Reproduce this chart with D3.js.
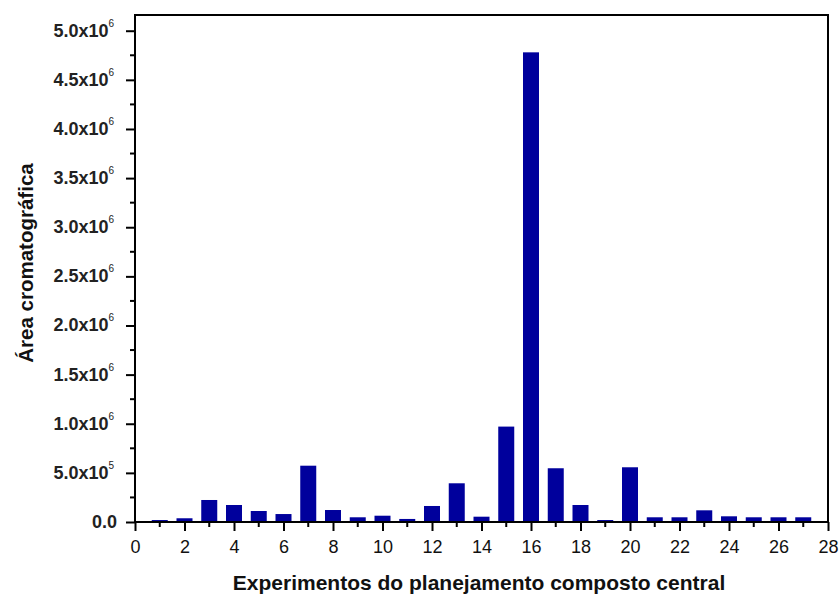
<!DOCTYPE html>
<html>
<head>
<meta charset="utf-8">
<script src="https://cdn.jsdelivr.net/npm/d3@7"></script>
<style>
body { margin: 0; background: #fff; }
text { font-family: "Liberation Sans", Arial, sans-serif; }
</style>
</head>
<body>
<div id="chart"></div>
<script>
var experiments = [1,2,3,4,5,6,7,8,9,10,11,12,13,14,15,16,17,18,19,20,21,22,23,24,25,26,27];
var areas = [20000, 38000, 224000, 173000, 112000, 81000, 573000, 122000, 48000, 64000,
             31000, 163000, 394000, 54000, 971000, 4780000, 547000, 173000, 20000, 557000,
             48000, 48000, 119000, 58000, 48000, 48000, 48000];
var xTicks = [0,2,4,6,8,10,12,14,16,18,20,22,24,26,28];
var yMantissa = ["0.0","5.0","1.0","1.5","2.0","2.5","3.0","3.5","4.0","4.5","5.0"];
var yExponent = ["", "5","6","6","6","6","6","6","6","6","6"];

var width = 840, height = 599;
var pLeft = 135, pRight = 828, pTop = 15, pBottom = 522;

var svg = d3.select("#chart").append("svg")
    .attr("width", width)
    .attr("height", height);

var x = d3.scaleLinear().domain([0, 28]).range([pLeft, pRight]);
var y = d3.scaleLinear().domain([0, 5.16e6]).range([pBottom, pTop]);

var barW = 16;

svg.selectAll("rect.bar")
    .data(experiments)
  .enter()
    .append("rect")
    .attr("class", "bar")
    .attr("x", function(d) { return x(d) - barW / 2; })
    .attr("y", function(d, i) { return y(areas[i]); })
    .attr("width", barW)
    .attr("height", function(d, i) { return pBottom - y(areas[i]); })
    .style("fill", "#00009c");

// x axis: major ticks at even numbers, minor ticks at odd
var xAxis = d3.axisBottom(x).tickValues(xTicks).tickSize(9).tickSizeOuter(0).tickPadding(9);
var gx = svg.append("g").attr("transform", "translate(0," + pBottom + ")").call(xAxis);
gx.select(".domain").remove();
gx.selectAll("line").attr("stroke", "#000").attr("stroke-width", 2);
gx.selectAll("text").style("font-size", "18px").style("font-family", "'Liberation Sans', Arial, sans-serif").attr("fill", "#111");
var xMinor = d3.range(1, 28, 2);
svg.append("g").selectAll("line")
    .data(xMinor)
  .enter().append("line")
    .attr("x1", function(d) { return x(d); })
    .attr("x2", function(d) { return x(d); })
    .attr("y1", pBottom)
    .attr("y2", pBottom + 5)
    .attr("stroke", "#000")
    .attr("stroke-width", 2);

// y axis
var yMajor = d3.range(0, 11).map(function(i) { return i * 5e5; });
var yAxis = d3.axisLeft(y).tickValues(yMajor).tickSize(9).tickSizeOuter(0).tickFormat("");
var gy = svg.append("g").attr("transform", "translate(" + pLeft + ",0)").call(yAxis);
gy.select(".domain").remove();
gy.selectAll("line").attr("stroke", "#000").attr("stroke-width", 2);
var yMinor = d3.range(0, 10).map(function(i) { return i * 5e5 + 2.5e5; });
svg.append("g").selectAll("line")
    .data(yMinor)
  .enter().append("line")
    .attr("x1", pLeft - 5)
    .attr("x2", pLeft)
    .attr("y1", function(d) { return y(d); })
    .attr("y2", function(d) { return y(d); })
    .attr("stroke", "#000")
    .attr("stroke-width", 2);

var ylab = svg.append("g").selectAll("text")
    .data(yMajor)
  .enter().append("text")
    .attr("x", pLeft - 21)
    .attr("y", function(d) { return y(d) + 6; })
    .attr("text-anchor", "end")
    .style("font-size", "18px")
    .style("font-weight", "bold")
    .attr("fill", "#222");
ylab.append("tspan").text(function(d, i) { return i == 0 ? "0.0" : yMantissa[i] + "x10"; });
ylab.append("tspan")
    .attr("dy", -10)
    .style("font-size", "10px")
    .style("font-weight", "normal")
    .text(function(d, i) { return yExponent[i]; });
// the zero label has no exponent
ylab.filter(function(d, i) { return i == 0; }).attr("x", pLeft - 18);

// frame
svg.append("rect")
    .attr("x", pLeft)
    .attr("y", pTop)
    .attr("width", pRight - pLeft)
    .attr("height", pBottom - pTop)
    .attr("fill", "none")
    .attr("stroke", "#000")
    .attr("stroke-width", 2);

svg.append("text")
    .attr("x", 479)
    .attr("y", 590)
    .attr("text-anchor", "middle")
    .style("font-size", "21px")
    .style("font-weight", "bold")
    .attr("fill", "#111")
    .text("Experimentos do planejamento composto central");

svg.append("text")
    .attr("transform", "translate(33,263) rotate(-90)")
    .attr("text-anchor", "middle")
    .style("font-size", "20.5px")
    .style("font-weight", "bold")
    .attr("fill", "#111")
    .text("Área cromatográfica");
</script>
</body>
</html>
